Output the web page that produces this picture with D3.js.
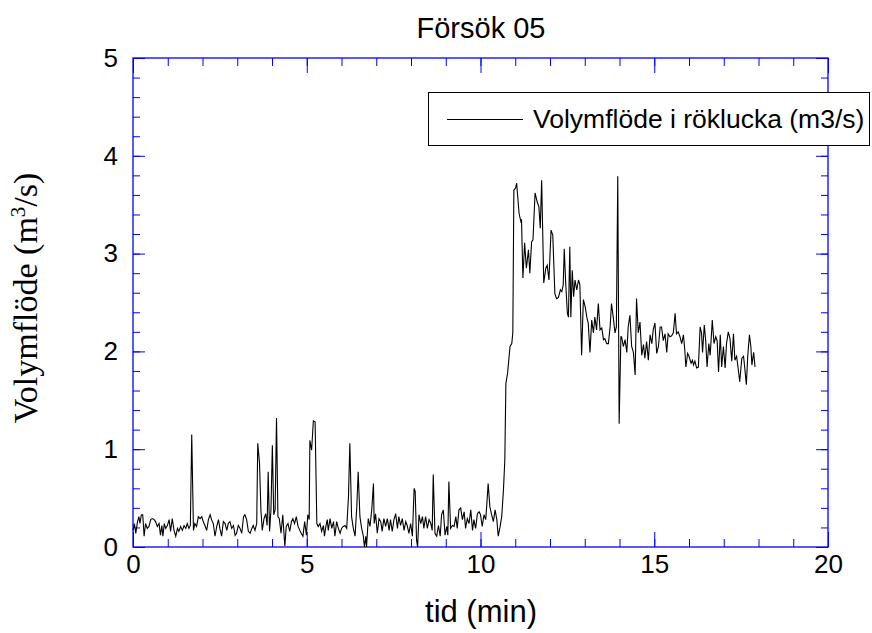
<!DOCTYPE html>
<html>
<head>
<meta charset="utf-8">
<script src="https://cdn.jsdelivr.net/npm/d3@7/dist/d3.min.js"></script>
<style>
  html, body { margin: 0; padding: 0; background: #fff; }
  svg { display: block; }
</style>
</head>
<body>
<svg id="chart" width="872" height="633"></svg>
<script>
// Försök 05 – volymflöde genom röklucka över tid
const titel = "Försök 05";
const xEtikett = "tid (min)";
const serieNamn = "Volymflöde i röklucka (m3/s)";

const xHuvudTicks = [0, 5, 10, 15, 20];
const xDelTicks = d3.range(0, 21, 1);
const yHuvudTicks = [0, 1, 2, 3, 4, 5];
const yDelTicks = d3.range(0, 5.01, 0.2).map(d => +d.toFixed(1));

// tid (min) och volymflöde (m3/s), uppmätta punkter
const fore = [
  [0.00,0.17],[0.04,0.24],[0.08,0.14],[0.13,0.26],[0.17,0.31],[0.20,0.24],[0.24,0.33],[0.28,0.33],[0.32,0.11],[0.36,0.24],
  [0.41,0.19],[0.46,0.21],[0.51,0.28],[0.56,0.29],[0.61,0.28],[0.65,0.26],[0.70,0.21],[0.75,0.24],[0.79,0.12],[0.83,0.22],
  [0.86,0.11],[0.90,0.24],[0.94,0.19],[0.99,0.22],[1.04,0.28],[1.08,0.16],[1.13,0.29],[1.18,0.17],[1.23,0.11],[1.28,0.19],
  [1.32,0.16],[1.37,0.21],[1.42,0.17],[1.47,0.22],[1.52,0.19],[1.56,0.24],[1.61,0.19],[1.65,0.22],[1.69,1.15],[1.74,0.17],
  [1.78,0.24],[1.83,0.21],[1.88,0.31],[1.93,0.29],[1.98,0.31],[2.02,0.26],[2.07,0.22],[2.12,0.17],[2.17,0.28],[2.22,0.33],
  [2.26,0.28],[2.31,0.24],[2.36,0.11],[2.41,0.21],[2.46,0.28],[2.50,0.19],[2.55,0.11],[2.60,0.26],[2.65,0.24],[2.70,0.17],
  [2.74,0.24],[2.79,0.26],[2.84,0.19],[2.89,0.22],[2.94,0.12],[2.98,0.14],[3.03,0.22],[3.08,0.19],[3.13,0.14],[3.18,0.31],
  [3.22,0.33],[3.27,0.28],[3.32,0.16],[3.37,0.14],[3.42,0.19],[3.46,0.22],[3.51,0.17],[3.56,0.24],[3.59,1.06],[3.64,0.86],
  [3.68,0.38],[3.72,0.17],[3.77,0.29],[3.82,0.34],[3.86,0.22],[3.89,0.77],[3.93,0.16],[3.97,0.38],[4.01,1.04],[4.05,0.33],
  [4.09,0.38],[4.13,1.32],[4.17,0.31],[4.21,0.29],[4.26,0.14],[4.31,0.33],[4.35,0.11],[4.37,0.01],[4.41,0.21],[4.46,0.24],
  [4.51,0.16],[4.56,0.26],[4.60,0.29],[4.65,0.24],[4.70,0.31],[4.75,0.21],[4.80,0.17],[4.84,0.14],[4.89,0.11],[4.94,0.26],
  [4.99,0.12],[5.03,0.33],[5.07,0.28],[5.09,1.09],[5.14,0.99],[5.19,1.29],[5.24,1.28],
  [5.29,0.24],[5.33,0.21],[5.38,0.24],[5.43,0.16],[5.48,0.22],[5.51,0.11],[5.55,0.21],[5.59,0.28],[5.62,0.17],[5.67,0.29],
  [5.72,0.19],[5.77,0.26],[5.81,0.11],[5.86,0.26],[5.91,0.19],[5.96,0.14],[6.00,0.19],[6.05,0.21],[6.10,0.22],[6.15,0.19],
  [6.20,0.51],[6.24,1.06],[6.29,0.31],[6.34,0.19],[6.39,0.11],[6.44,0.41],[6.48,0.77],[6.53,0.31],[6.58,0.19],[6.63,0.11],
  [6.66,0.00],[6.70,0.11],[6.72,0.00],[6.77,0.29],[6.82,0.21],[6.87,0.38],[6.92,0.65],[6.94,0.24],[6.98,0.34],[7.03,0.14],
  [7.08,0.29],[7.13,0.26],[7.17,0.16],[7.22,0.29],[7.27,0.21],[7.32,0.29],[7.37,0.17],[7.41,0.28],[7.46,0.16],[7.51,0.28],
  [7.56,0.34],[7.61,0.19],[7.65,0.31],[7.70,0.22],[7.75,0.29],[7.80,0.17],[7.85,0.26],[7.89,0.22],[7.94,0.14],[7.99,0.24],
  [8.04,0.11],[8.09,0.60],[8.12,0.57],[8.16,0.07],[8.19,0.00],[8.23,0.33],[8.28,0.24],[8.33,0.31],[8.37,0.19],[8.42,0.31],
  [8.47,0.19],[8.52,0.28],[8.57,0.24],[8.61,0.17],[8.64,0.74],[8.69,0.14],[8.74,0.11],[8.79,0.22],[8.84,0.11],[8.88,0.33],
  [8.93,0.38],[8.98,0.12],[9.03,0.21],[9.06,0.12],[9.09,0.67],[9.14,0.19],[9.19,0.22],[9.24,0.21],[9.29,0.31],[9.33,0.19],
  [9.38,0.38],[9.43,0.40],[9.48,0.28],[9.53,0.36],[9.57,0.19],[9.62,0.29],[9.67,0.24],[9.72,0.38],[9.77,0.17],[9.81,0.28],
  [9.86,0.19],[9.91,0.34],[9.96,0.36],[10.00,0.33],[10.05,0.21],[10.10,0.33],[10.15,0.28],[10.19,0.48],[10.22,0.65],[10.27,0.41],
  [10.32,0.33],[10.37,0.26],[10.42,0.38],[10.47,0.28],[10.51,0.11]
];

const brand = [
  [10.56,0.20],[10.61,0.31],[10.66,0.58],[10.70,0.89],[10.73,1.67],[10.78,1.78],[10.85,2.05],[10.90,2.08],[10.93,2.19],[10.96,3.65],
  [11.01,3.67],[11.04,3.72],[11.11,3.41],[11.16,3.33],[11.18,3.35],[11.22,2.75],[11.27,3.11],[11.32,2.85],[11.38,3.04],[11.42,2.80],
  [11.47,3.12],[11.51,3.14],[11.57,3.62],[11.63,3.53],[11.68,3.48],[11.72,3.26],[11.76,3.75],[11.82,2.70],[11.88,2.85],[11.92,2.88],
  [11.97,2.73],[12.03,3.24],[12.08,3.19],[12.14,2.59],[12.19,2.54],[12.24,2.55],[12.30,2.63],[12.34,2.61],[12.38,2.68],[12.41,3.05],
  [12.45,2.71],[12.50,2.39],[12.53,2.35],[12.57,3.07],[12.60,2.35],[12.64,2.83],[12.68,2.56],[12.72,2.73],[12.77,2.63],[12.82,2.73],
  [12.86,2.68],[12.91,1.96],[12.96,2.53],[13.01,2.46],[13.06,2.35],[13.10,2.29],[13.15,1.99],[13.20,2.32],[13.25,2.19],[13.29,2.35],
  [13.34,2.22],[13.39,2.49],[13.44,2.22],[13.49,2.24],[13.54,2.12],[13.58,2.13],[13.63,2.08],[13.68,2.08],[13.73,2.25],[13.77,2.49],
  [13.82,2.35],[13.87,2.19],[13.91,2.25],[13.95,3.79],[13.99,1.26],[14.04,2.15]
];

const efter = [
  [14.06,2.15],[14.11,2.05],[14.16,2.12],[14.21,1.99],[14.25,2.25],[14.30,2.37],[14.35,2.05],[14.40,1.99],[14.45,1.76],[14.49,2.54],
  [14.54,2.19],[14.59,2.30],[14.64,1.96],[14.69,2.07],[14.73,1.93],[14.78,2.10],[14.83,1.91],[14.88,2.17],[14.93,2.08],[14.97,2.22],
  [15.02,2.29],[15.07,1.98],[15.12,2.05],[15.17,2.25],[15.21,2.25],[15.26,2.11],[15.31,2.18],[15.36,1.99],[15.40,2.18],[15.45,2.15],
  [15.50,2.16],[15.55,2.19],[15.60,2.39],[15.64,2.18],[15.69,2.20],[15.74,2.15],[15.79,2.08],[15.84,2.17],[15.88,2.01],[15.91,1.84],
  [15.96,1.98],[16.00,1.95],[16.06,1.88],[16.10,1.91],[16.13,1.86],[16.17,1.90],[16.22,1.83],[16.27,1.84],[16.32,2.25],[16.36,2.19],
  [16.39,1.99],[16.44,2.27],[16.48,2.11],[16.52,1.84],[16.57,2.08],[16.61,1.96],[16.67,2.32],[16.72,2.08],[16.77,2.15],[16.81,2.11],
  [16.85,1.79],[16.90,2.17],[16.94,1.84],[16.99,2.05],[17.04,1.83],[17.08,2.08],[17.13,2.20],[17.18,2.13],[17.23,1.90],[17.28,2.18],
  [17.32,1.91],[17.37,1.95],[17.42,1.81],[17.46,1.69],[17.52,1.93],[17.57,1.95],[17.61,1.81],[17.65,1.66],[17.69,1.95],[17.74,2.17],
  [17.78,2.05],[17.81,1.86],[17.86,1.99],[17.90,1.84]
];

const matserie = fore.concat(brand, efter);

const svg = d3.select("#chart");
const ram = { left: 133, right: 828, top: 58, bottom: 547 };
const bla = "#0000ff";
const sans = "'Liberation Sans', Arial, Helvetica, sans-serif";
const serif = "'Liberation Serif', 'Times New Roman', Times, serif";

const x = d3.scaleLinear().domain([0, 20]).range([ram.left, ram.right]);
const y = d3.scaleLinear().domain([0, 5]).range([ram.bottom, ram.top]);

// Axlar med inåtriktade streck på alla fyra sidor
function styleAxis(g) {
  g.select(".domain").remove();
  g.selectAll(".tick line").attr("stroke", bla).attr("stroke-width", 1);
  g.selectAll(".tick text").attr("fill", "#000").attr("font-family", sans).attr("font-size", 26);
}

svg.append("g").attr("transform", `translate(0,${ram.bottom})`)
  .call(d3.axisBottom(x).tickValues(xDelTicks).tickSize(-8).tickFormat(""))
  .call(styleAxis);
svg.append("g").attr("transform", `translate(0,${ram.bottom})`)
  .call(d3.axisBottom(x).tickValues(xHuvudTicks).tickSize(-15).tickPadding(8).tickFormat(d3.format("d")))
  .call(styleAxis);
svg.append("g").attr("transform", `translate(0,${ram.top})`)
  .call(d3.axisTop(x).tickValues(xDelTicks).tickSize(-8).tickFormat(""))
  .call(styleAxis);
svg.append("g").attr("transform", `translate(0,${ram.top})`)
  .call(d3.axisTop(x).tickValues(xHuvudTicks).tickSize(-15).tickFormat(""))
  .call(styleAxis);

svg.append("g").attr("transform", `translate(${ram.left},0)`)
  .call(d3.axisLeft(y).tickValues(yDelTicks).tickSize(-7).tickFormat(""))
  .call(styleAxis);
svg.append("g").attr("transform", `translate(${ram.left},0)`)
  .call(d3.axisLeft(y).tickValues(yHuvudTicks).tickSize(-12).tickPadding(15).tickFormat(d3.format("d")))
  .call(styleAxis);
svg.append("g").attr("transform", `translate(${ram.right},0)`)
  .call(d3.axisRight(y).tickValues(yDelTicks).tickSize(-7).tickFormat(""))
  .call(styleAxis);
svg.append("g").attr("transform", `translate(${ram.right},0)`)
  .call(d3.axisRight(y).tickValues(yHuvudTicks).tickSize(-12).tickFormat(""))
  .call(styleAxis);

// Diagramram
svg.append("rect")
  .attr("x", ram.left).attr("y", ram.top)
  .attr("width", ram.right - ram.left).attr("height", ram.bottom - ram.top)
  .attr("fill", "none").attr("stroke", bla).attr("stroke-width", 1.3);

// Mätkurva
const linje = d3.line().x(d => x(d[0])).y(d => y(d[1]));
svg.append("path")
  .datum(matserie)
  .attr("d", linje)
  .attr("fill", "none")
  .attr("stroke", "#000")
  .attr("stroke-width", 1.1)
  .attr("stroke-linejoin", "miter");

// Rubrik och axeltitlar
svg.append("text")
  .attr("x", 481).attr("y", 38)
  .attr("text-anchor", "middle")
  .attr("font-family", sans).attr("font-size", 29)
  .text(titel);

svg.append("text")
  .attr("x", 481).attr("y", 622)
  .attr("text-anchor", "middle")
  .attr("font-family", sans).attr("font-size", 31)
  .text(xEtikett);

const yt = svg.append("text")
  .attr("transform", "translate(37,298) rotate(-90)")
  .attr("text-anchor", "middle")
  .attr("font-family", serif).attr("font-size", 34);
yt.append("tspan").text("Volymflöde (m");
yt.append("tspan").attr("dy", -12).attr("font-size", 21).text("3");
yt.append("tspan").attr("dy", 12).text("/s)");

// Teckenförklaring
const leg = svg.append("g");
leg.append("rect")
  .attr("x", 428.5).attr("y", 92.5).attr("width", 441).attr("height", 53)
  .attr("fill", "#fff").attr("stroke", "#000").attr("stroke-width", 1);
leg.append("line")
  .attr("x1", 447).attr("x2", 523).attr("y1", 119.5).attr("y2", 119.5)
  .attr("stroke", "#000").attr("stroke-width", 1);
leg.append("text")
  .attr("x", 533).attr("y", 128)
  .attr("font-family", sans).attr("font-size", 26.5)
  .text(serieNamn);
</script>
</body>
</html>
